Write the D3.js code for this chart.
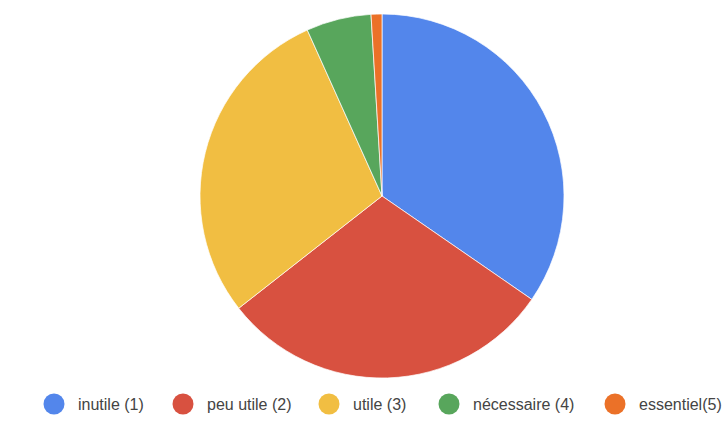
<!DOCTYPE html>
<html>
<head>
<meta charset="utf-8">
<script src="https://cdn.jsdelivr.net/npm/d3@7"></script>
<style>
  html, body { margin: 0; padding: 0; background: #fff; }
  svg { display: block; }
</style>
</head>
<body>
<svg id="chart" width="723" height="423"></svg>
<script>
// Survey answers: how useful respondents found it
const categories = ["inutile (1)", "peu utile (2)", "utile (3)", "nécessaire (4)", "essentiel(5)"];
const counts = [36, 31, 30, 6, 1];
const colors = ["#5386eb", "#d85140", "#f1be42", "#58a65c", "#eb7128"];

const width = 723, height = 423;
const cx = 382, cy = 196, radius = 182;

const svg = d3.select("#chart");

const data = categories.map((c, i) => ({ label: c, value: counts[i], color: colors[i] }));

const pie = d3.pie().value(d => d.value).sort(null);
const arc = d3.arc().innerRadius(0).outerRadius(radius);

svg.append("g")
  .attr("transform", `translate(${cx},${cy})`)
  .selectAll("path")
  .data(pie(data))
  .join("path")
  .attr("d", arc)
  .attr("fill", d => d.data.color)
  .attr("stroke", "#ffffff")
  .attr("stroke-width", 0.7);

// Legend row along the bottom
const legendX = [54, 183, 329, 449, 615];
const legend = svg.append("g").attr("class", "legend");
const items = legend.selectAll("g")
  .data(data)
  .join("g")
  .attr("transform", (d, i) => `translate(${legendX[i]},404)`);

items.append("circle")
  .attr("r", 10.5)
  .attr("fill", d => d.color);

items.append("text")
  .attr("x", 24)
  .attr("y", 6)
  .attr("font-family", "Arial, 'Liberation Sans', sans-serif")
  .attr("font-size", 16)
  .attr("fill", "#444")
  .text(d => d.label);
</script>
</body>
</html>
